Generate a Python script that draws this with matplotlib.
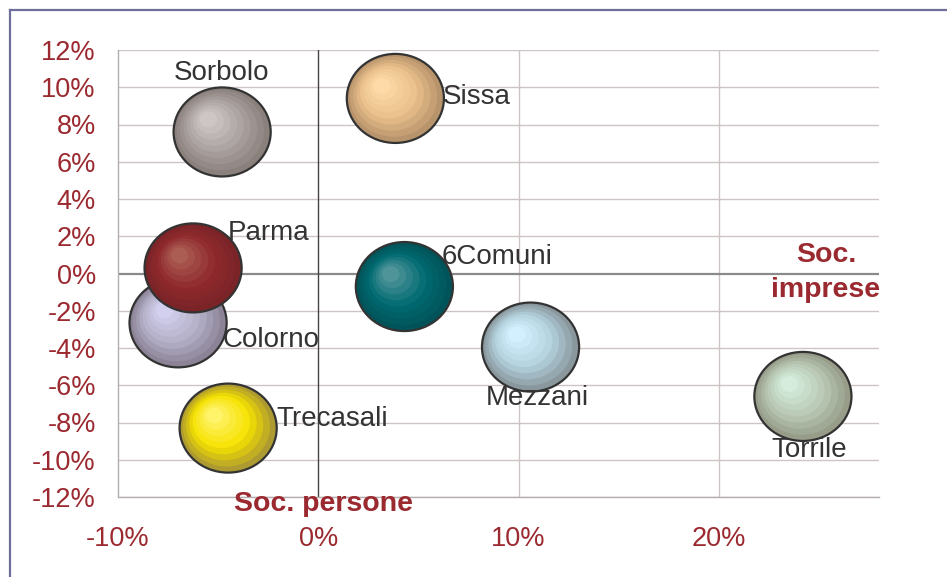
import matplotlib
matplotlib.use("Agg")
import matplotlib.pyplot as plt
from matplotlib.patches import Ellipse
from matplotlib.lines import Line2D
from matplotlib.ticker import FuncFormatter
import numpy as np

# ---- data (percent) ----
names = ["Sorbolo", "Sissa", "Colorno", "Parma", "6Comuni", "Trecasali", "Mezzani", "Torrile"]
soc_persone = [-4.8, 3.85, -7.0, -6.25, 4.3, -4.5, 10.6, 24.2]
soc_imprese = [7.6, 9.4, -2.65, 0.3, -0.7, -8.3, -3.95, -6.6]
bubble_size = [1, 1, 1, 1, 1, 1, 1, 1]
x_ticks = [-10, 0, 10, 20]
y_ticks = [-12, -10, -8, -6, -4, -2, 0, 2, 4, 6, 8, 10, 12]

# ---- styles ----
colors = {
    "Sorbolo": ("#8a807c", "#aaa2a0", "#cdc6c4"),
    "Sissa": ("#b8946c", "#e9bf8a", "#fedaa8"),
    "Colorno": ("#8c8496", "#b4b0c8", "#d2d0ee"),
    "Parma": ("#7a2427", "#8f292d", "#ab5d53"),
    "6Comuni": ("#005459", "#006a71", "#4f9499"),
    "Trecasali": ("#ad9a30", "#f5e200", "#fff36a"),
    "Mezzani": ("#8a989e", "#b3d2de", "#d2f0fd"),
    "Torrile": ("#979d89", "#b8c8b4", "#d5ecdc"),
}
label_place = {
    "Sorbolo": (-4.85, 10.74, "center"),
    "Sissa": (6.2, 9.5, "left"),
    "Colorno": (-4.8, -3.55, "left"),
    "Parma": (-4.5, 2.15, "left"),
    "6Comuni": (6.15, 0.9, "left"),
    "Trecasali": (-2.1, -7.8, "left"),
    "Mezzani": (10.95, -6.7, "center"),
    "Torrile": (24.5, -9.5, "center"),
}
RED = "#9b2a30"
FONT = "Liberation Sans"

fig = plt.figure(figsize=(9.47, 5.77), dpi=100)
fig.patch.set_facecolor("white")
ax = fig.add_axes([118 / 947, 1 - 497 / 577, (879 - 118) / 947, (497 - 50) / 577])
ax.set_xlim(-10, 28)
ax.set_ylim(-12, 12)

# grid
for yt in y_ticks:
    if yt == 0:
        continue
    ax.axhline(yt, color="#cdc4c4", lw=1.0, zorder=0)
for xt in x_ticks[1:]:
    if xt == 0:
        continue
    ax.axvline(xt, color="#cdc4c4", lw=1.0, zorder=0)
ax.axhline(0, color="#8a8a8a", lw=1.6, zorder=1)
ax.axvline(0, color="#444444", lw=1.0, zorder=1)

for s in ["top", "right"]:
    ax.spines[s].set_visible(False)
for s in ["left", "bottom"]:
    ax.spines[s].set_color("#b5aeae")
    ax.spines[s].set_linewidth(1.0)

def mix(c1, c2, t):
    a = np.array(matplotlib.colors.to_rgb(c1))
    b = np.array(matplotlib.colors.to_rgb(c2))
    return tuple(a + (b - a) * t)

base_w, base_h = 4.85, 4.78
n = 9
z = 2
for name, xv, yv, sz in zip(names, soc_persone, soc_imprese, bubble_size):
    w, h = base_w * sz, base_h * sz
    outer, mid, hl = colors[name]
    ax.add_patch(Ellipse((xv, yv), w, h, facecolor=outer, edgecolor="none", zorder=z))
    for i in range(1, n):
        t = i / (n - 1)
        sc = 1 - 0.82 * t
        cx = xv - 0.28 * (w / 2) * t
        cy = yv + 0.28 * (h / 2) * t
        if t < 0.45:
            col = mix(outer, mid, t / 0.45)
        else:
            col = mix(mid, hl, (t - 0.45) / 0.55)
        ax.add_patch(Ellipse((cx, cy), w * sc, h * sc, facecolor=col, edgecolor="none", zorder=z))
    ax.add_patch(Ellipse((xv, yv), w, h, facecolor="none", edgecolor="#333333", lw=1.6, zorder=z))
    z += 1

for name in names:
    lx, ly, ha = label_place[name]
    ax.text(lx, ly, name, ha=ha, va="center", fontsize=20, color="#333333",
            family=FONT, zorder=50)

ax.set_xticks(x_ticks)
ax.set_yticks(y_ticks)
ax.xaxis.set_major_formatter(FuncFormatter(lambda v, p: f"{v:.0f}%"))
ax.yaxis.set_major_formatter(FuncFormatter(lambda v, p: f"{v:.0f}%"))
ax.tick_params(axis="both", length=0, colors=RED, labelsize=19.5)
ax.tick_params(axis="y", pad=16)
ax.tick_params(axis="x", pad=21)
for lab in ax.get_xticklabels() + ax.get_yticklabels():
    lab.set_family(FONT)

ax.text(0.25, -12.35, "Soc. persone", ha="center", va="center", fontsize=20.5,
        fontweight="bold", color=RED, family=FONT, clip_on=False, zorder=60)
ax.text(25.35, 0.97, "Soc.", ha="center", va="center", fontsize=20.5,
        fontweight="bold", color=RED, family=FONT, zorder=60)
ax.text(25.35, -0.91, "imprese", ha="center", va="center", fontsize=20.5,
        fontweight="bold", color=RED, family=FONT, zorder=60)

# outer frame (partially visible)
fig.add_artist(Line2D([9.5 / 947, 9.5 / 947], [0, 1 - 9.5 / 577], color="#6e6e9a", lw=1.6,
                      transform=fig.transFigure))
fig.add_artist(Line2D([9.5 / 947, 1], [1 - 9.5 / 577, 1 - 9.5 / 577], color="#6e6e9a", lw=1.6,
                      transform=fig.transFigure))

fig.savefig("out.png", dpi=100, facecolor="white")
